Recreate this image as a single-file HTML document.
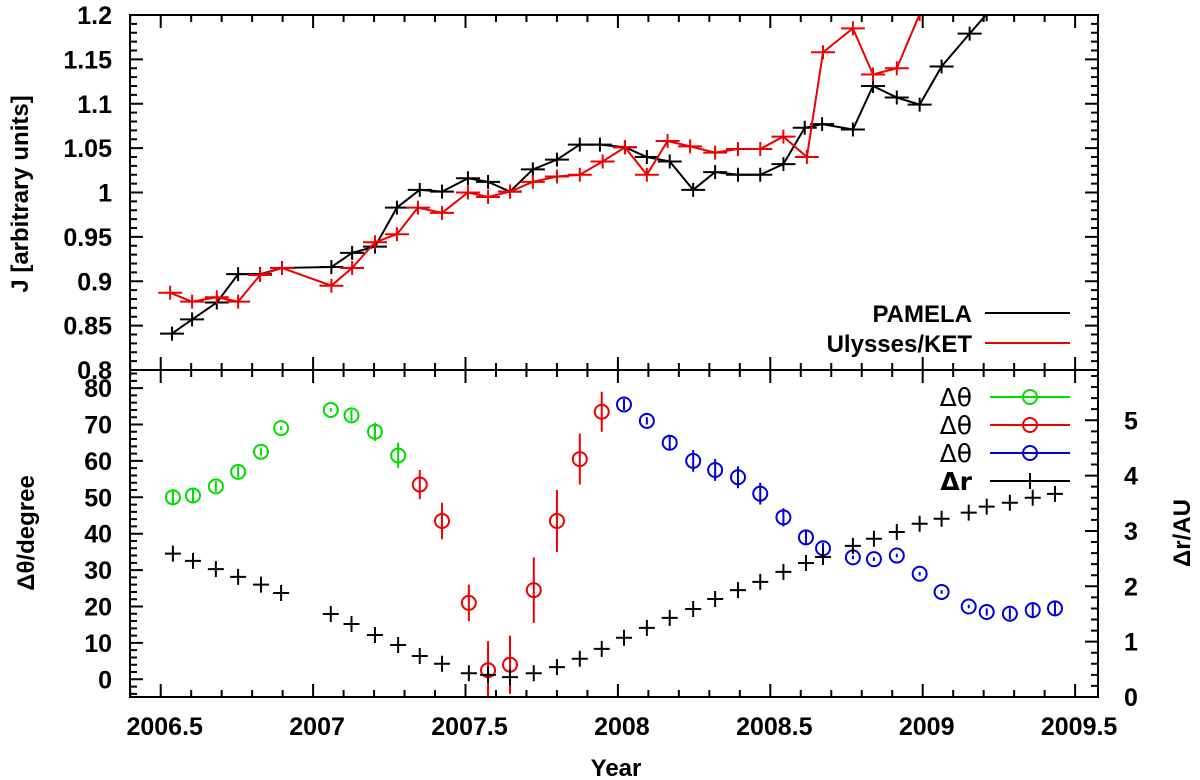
<!DOCTYPE html>
<html><head><meta charset="utf-8"><style>
html,body{margin:0;padding:0;background:#fff;}
svg{display:block;font-family:"Liberation Sans",Arial,sans-serif;font-weight:bold;}
</style></head><body>
<svg id="chart" width="1200" height="780" viewBox="0 0 1200 780" xmlns="http://www.w3.org/2000/svg">
<g id="topPanel"></g>
<g id="botPanel"></g>
<g id="axesGroup"></g>
<text x="616" y="776" font-size="24" text-anchor="middle">Year</text>
<text transform="translate(28,194) rotate(-90)" font-size="24" text-anchor="middle">J [arbitrary units]</text>
<text transform="translate(34,533) rotate(-90)" font-size="24" text-anchor="middle">Δθ/degree</text>
<text transform="translate(1190,533) rotate(-90)" font-size="24" text-anchor="middle">Δr/AU</text>
<g>
<text x="972" y="322" font-size="24" text-anchor="end">PAMELA</text>
<line x1="985" y1="313" x2="1070" y2="313" stroke="#000" stroke-width="2"/>
<text x="972" y="352" font-size="24" text-anchor="end">Ulysses/KET</text>
<line x1="985" y1="343" x2="1070" y2="343" stroke="#e00" stroke-width="2"/>
</g>
<g font-family="'DejaVu Sans','Liberation Sans',sans-serif">
<text x="972" y="406" font-size="25" font-weight="normal" text-anchor="end">Δθ</text>
<line x1="990" y1="397" x2="1070" y2="397" stroke="#0d0" stroke-width="2"/>
<circle cx="1030" cy="397" r="7" fill="none" stroke="#0d0" stroke-width="2"/>
<text x="972" y="434" font-size="25" font-weight="normal" text-anchor="end">Δθ</text>
<line x1="990" y1="425" x2="1070" y2="425" stroke="#e00" stroke-width="2"/>
<circle cx="1030" cy="425" r="7" fill="none" stroke="#e00" stroke-width="2"/>
<text x="972" y="462" font-size="25" font-weight="normal" text-anchor="end">Δθ</text>
<line x1="990" y1="453" x2="1070" y2="453" stroke="#00d" stroke-width="2"/>
<circle cx="1030" cy="453" r="7" fill="none" stroke="#00d" stroke-width="2"/>
<text x="972" y="490" font-size="25" text-anchor="end">Δr</text>
<line x1="990" y1="481" x2="1070" y2="481" stroke="#000" stroke-width="2"/>
<line x1="1030" y1="473" x2="1030" y2="489" stroke="#000" stroke-width="2"/>
</g>
</svg>
<script>
const pamYears=[2006.537,2006.603,2006.684,2006.754,2006.826,2006.898,2007.060,2007.128,2007.203,2007.275,2007.350,2007.423,2007.508,2007.574,2007.646,2007.721,2007.800,2007.875,2007.941,2008.023,2008.095,2008.170,2008.247,2008.319,2008.394,2008.467,2008.543,2008.613,2008.670,2008.771,2008.837,2008.915,2008.990,2009.062,2009.154,2009.210,2009.30];
const pamJ=[0.841,0.857,0.876,0.908,0.908,0.915,0.916,0.932,0.939,0.983,1.003,1.001,1.016,1.012,1.001,1.026,1.037,1.054,1.054,1.051,1.040,1.035,1.003,1.023,1.020,1.020,1.032,1.073,1.077,1.071,1.120,1.107,1.099,1.142,1.179,1.201,1.24];
const ulyYears=[2006.531,2006.603,2006.684,2006.754,2006.826,2006.898,2007.060,2007.128,2007.203,2007.275,2007.344,2007.423,2007.508,2007.574,2007.646,2007.721,2007.800,2007.875,2007.950,2008.023,2008.095,2008.163,2008.237,2008.319,2008.394,2008.467,2008.543,2008.620,2008.673,2008.771,2008.837,2008.915,2008.990,2009.06];
const ulyJ=[0.887,0.877,0.882,0.877,0.907,0.915,0.895,0.915,0.944,0.953,0.983,0.977,1.000,0.995,1.001,1.012,1.018,1.020,1.035,1.051,1.020,1.058,1.052,1.045,1.049,1.049,1.063,1.040,1.158,1.185,1.133,1.140,1.201,1.30];
const angYears=[2006.540,2006.606,2006.681,2006.754,2006.829,2006.895,2007.058,2007.126,2007.203,2007.279,2007.350,2007.423,2007.511,2007.574,2007.646,2007.724,2007.800,2007.875,2007.947,2008.020,2008.095,2008.170,2008.247,2008.319,2008.394,2008.467,2008.543,2008.617,2008.673,2008.771,2008.840,2008.915,2008.990,2009.062,2009.151,2009.210,2009.286,2009.361,2009.434];
const theta=[50,50.5,53,57,62.5,69,74,72.5,68,61.5,53.5,43.5,21,2.5,4,24.5,43.5,60.5,73.5,75.5,71,65,60,57.5,55.5,51,44.5,39,36,33.5,33,34,29,24,20,18.5,18,19,19.5];
const thetaErr=[2,2,1.5,1.5,1,0.5,0.5,1.5,2.5,3.5,4,5,5,8,8,9,8.5,7,5.5,1.5,1,2,3,3,3,3,2.5,2,1.5,0.5,0.5,0.5,0.5,0.5,0.5,1,1.5,2,2];
const thetaGroup=[0,0,0,0,0,0,0,0,0,0,1,1,1,1,1,1,1,1,1,2,2,2,2,2,2,2,2,2,2,2,2,2,2,2,2,2,2,2,2];
const dr=[2.59,2.46,2.31,2.17,2.03,1.88,1.50,1.32,1.12,0.94,0.74,0.60,0.43,0.40,0.36,0.43,0.54,0.69,0.87,1.07,1.25,1.43,1.59,1.77,1.93,2.08,2.26,2.42,2.53,2.73,2.86,2.98,3.13,3.22,3.33,3.44,3.51,3.60,3.67];
const groupColors=['#0d0','#e00','#00d'];
const xLabels=['2006.5','2007','2007.5','2008','2008.5','2009','2009.5'];
const jLabels=['0.8','0.85','0.9','0.95','1','1.05','1.1','1.15','1.2'];
const thLabels=['0','10','20','30','40','50','60','70','80'];
const drLabels=['0','1','2','3','4','5'];

const NS='http://www.w3.org/2000/svg';
const L=130,R=1098,T=15,M=370,B=697;
const xs=y=>160.7+(y-2006.5)*304.8;
const yJ=v=>M-(v-0.8)/0.4*(M-T);
const yTh=v=>679.3-v*3.64;
const yDr=v=>B-v*55.35;
function mk(tag,attrs,parent){const e=document.createElementNS(NS,tag);for(const k in attrs)e.setAttribute(k,attrs[k]);parent.appendChild(e);return e;}
const gTop=document.getElementById('topPanel'),gBot=document.getElementById('botPanel'),gAxes=document.getElementById('axesGroup');

const defs=mk('defs',{},document.getElementById('chart'));
const cp=mk('clipPath',{id:'cTop'},defs);mk('rect',{x:L,y:T,width:R-L,height:M-T},cp);
const cp2=mk('clipPath',{id:'cBot'},defs);mk('rect',{x:L,y:M,width:R-L,height:B-M},cp2);
gTop.setAttribute('clip-path','url(#cTop)');gBot.setAttribute('clip-path','url(#cBot)');

function series(yrs,vals,color,name){
  const pts=yrs.map((y,i)=>xs(y)+','+yJ(vals[i])).join(' ');
  const pl=mk('polyline',{points:pts,fill:'none',stroke:color,'stroke-width':2},gTop);
  
  
  yrs.forEach((y,i)=>{
    const x=xs(y),yy=yJ(vals[i]);
    const p=mk('path',{d:`M${x-12},${yy}H${x+12}M${x},${yy-7}V${yy+7}`,stroke:color,'stroke-width':2,fill:'none'},gTop);
    
    
  });
}
series(pamYears,pamJ,'#000','pamela');
series(ulyYears,ulyJ,'#e00','ulysses');

angYears.forEach((y,i)=>{
  const x=xs(y),yy=yTh(theta[i]),c=groupColors[thetaGroup[i]],e=thetaErr[i]*3.64;
  const eb=mk('line',{x1:x,x2:x,y1:yy-e,y2:yy+e,stroke:c,'stroke-width':2},gBot);
  
  
  const ci=mk('circle',{cx:x,cy:yy,r:7,fill:'none',stroke:c,'stroke-width':2},gBot);
  
  
  const ry=yDr(dr[i]);
  const p=mk('path',{d:`M${x-8},${ry}H${x+8}M${x},${ry-8}V${ry+8}`,stroke:'#000','stroke-width':2},gBot);
  
  
});

let d=`M${L},${T}H${R}V${B}H${L}Z M${L},${M}H${R}`;
for(let k=0;k<=32;k++){const yr=2006.4+k*0.1;const x=xs(yr);if(x<L-0.5||x>R+0.5)continue;
  const major=Math.abs(yr*2-Math.round(yr*2))<0.01;const len=major?13:7;
  d+=`M${x},${T}v${len}M${x},${M}v${-len}M${x},${M}v${len}M${x},${B}v${-len}`;}
for(let k=0;k<=40;k++){const v=0.8+k*0.01;const y=yJ(v);const len=k%5===0?13:7;d+=`M${L},${y}h${len}M${R},${y}h${-len}`;}
for(let v=-4;v<=84;v+=2){const y=yTh(v);if(y<M||y>B)continue;const len=v%10===0?13:7;d+=`M${L},${y}h${len}`;}
for(let k=0;k<=30;k++){const v=k*0.2;const y=yDr(v);if(y<M)continue;const len=k%5===0?13:7;d+=`M${R},${y}h${-len}`;}
const ax=mk('path',{d:d,stroke:'#000','stroke-width':2,fill:'none'},gAxes);



xLabels.forEach(s=>{const t=mk('text',{x:xs(+s)+4,y:735,'font-size':25,'text-anchor':'middle'},gAxes);t.textContent=s;
  
  });
jLabels.forEach(s=>{const t=mk('text',{x:112,y:yJ(+s)+9,'font-size':25,'text-anchor':'end'},gAxes);t.textContent=s;
  
  });
thLabels.forEach(s=>{const t=mk('text',{x:112,y:yTh(+s)+9,'font-size':25,'text-anchor':'end'},gAxes);t.textContent=s;
  
  });
drLabels.forEach(s=>{const t=mk('text',{x:1124,y:yDr(+s)+9,'font-size':25,'text-anchor':'start'},gAxes);t.textContent=s;
  
  });
</script>
</body></html>
